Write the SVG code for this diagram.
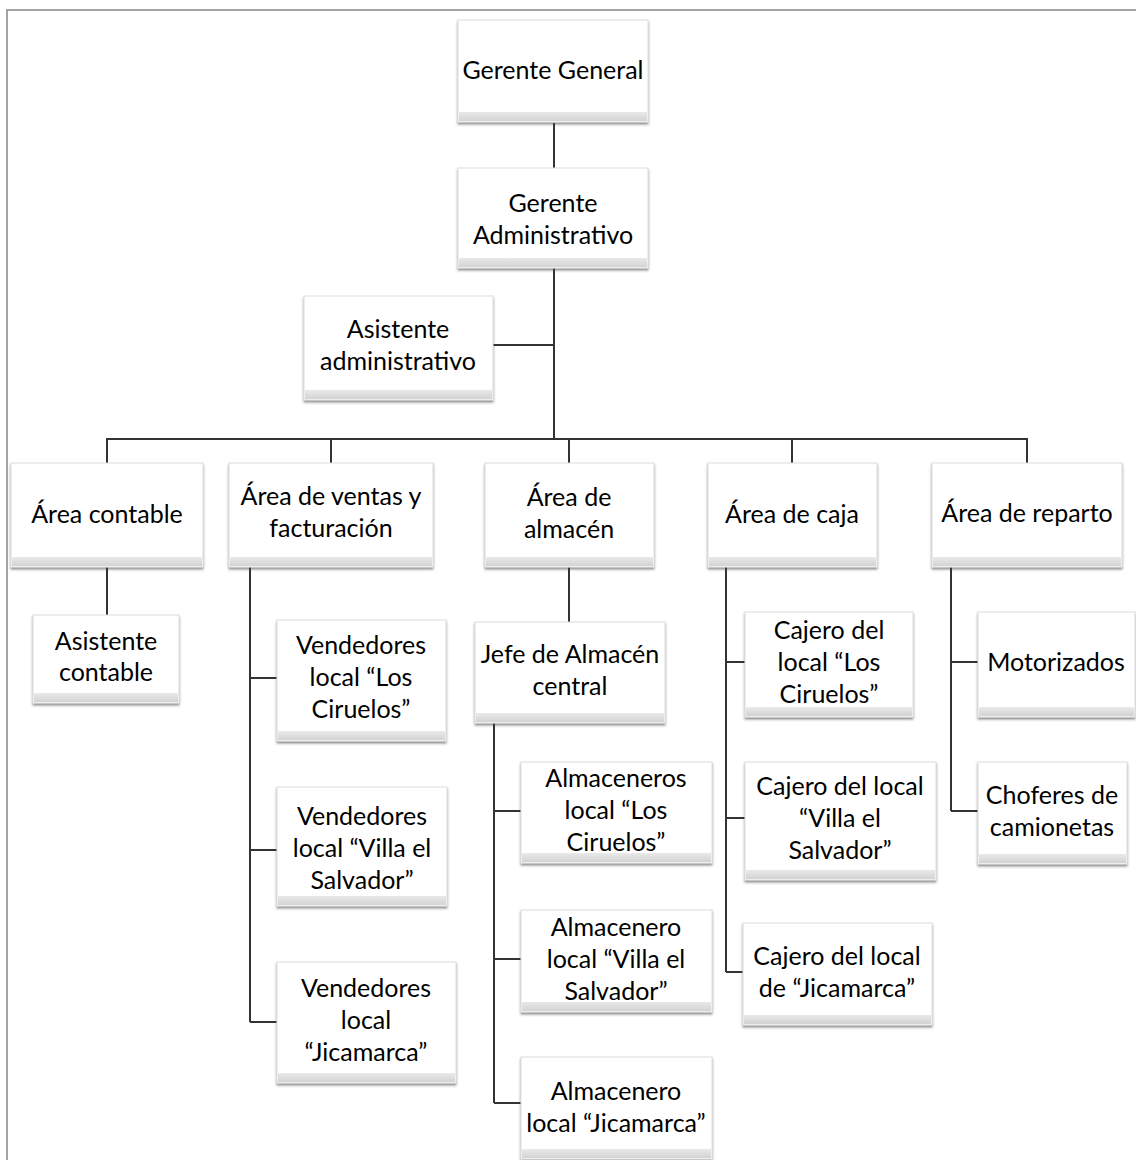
<svg xmlns="http://www.w3.org/2000/svg" width="1136" height="1160" viewBox="0 0 1136 1160">
<defs>
<linearGradient id="band" x1="0" y1="0" x2="0" y2="1">
<stop offset="0" stop-color="#e9e9e9"/>
<stop offset="1" stop-color="#d3d3d3"/>
</linearGradient>
<filter id="sh" x="-5%" y="-5%" width="110%" height="115%">
<feDropShadow dx="0" dy="2" stdDeviation="1" flood-color="#444" flood-opacity="0.6"/>
</filter>
</defs>
<style>
.box{fill:#fff;stroke:#dcdcdc;stroke-width:1;filter:url(#sh)}
.band{fill:url(#band)}
.t{font-family:Lato,"Liberation Sans",sans-serif;font-size:25px;fill:#000;text-anchor:middle}
.c{stroke:#333;stroke-width:2;fill:none}
.frame{stroke:#a3a3a3;stroke-width:2;fill:none}
</style>
<rect width="1136" height="1160" fill="#fff"/>
<path class="frame" d="M7 1160 V10 H1136"/>

<g id="connectors">
<path class="c" d="M554 123 V168"/>
<path class="c" d="M554 268 V439 M493 345 H554"/>
<path class="c" d="M107 463 V439 H1027 V463 M331 439 V463 M569 439 V463 M792 439 V463"/>
<path class="c" d="M107 567 V615"/>
<path class="c" d="M250 567 V1022 M250 678 H277 M250 850 H277 M250 1022 H277"/>
<path class="c" d="M569 567 V622"/>
<path class="c" d="M494 723 V1103 M494 811 H521 M494 959 H521 M494 1103 H521"/>
<path class="c" d="M726 567 V972 M726 662 H745 M726 818 H745 M726 972 H743"/>
<path class="c" d="M951 567 V811 M951 662 H978 M951 811 H978"/>
</g>

<g id="gerente-general">
<rect class="box" x="458" y="20" width="190" height="102"/><rect class="band" x="459" y="112" width="188" height="9"/>
<text class="t" x="553" y="79">Gerente General</text>
</g>
<g id="gerente-administrativo">
<rect class="box" x="458" y="168" width="190" height="100"/><rect class="band" x="459" y="258" width="188" height="9"/>
<text class="t" x="553" y="212">Gerente</text><text class="t" x="553" y="244">Administrativo</text>
</g>
<g id="asistente-administrativo">
<rect class="box" x="304" y="296" width="189" height="104"/><rect class="band" x="305" y="390" width="187" height="9"/>
<text class="t" x="398" y="338">Asistente</text><text class="t" x="398" y="370">administrativo</text>
</g>

<g id="area-contable">
<rect class="box" x="11" y="463" width="192" height="104"/><rect class="band" x="12" y="557" width="190" height="9"/>
<text class="t" x="107" y="523">Área contable</text>
</g>
<g id="area-ventas">
<rect class="box" x="229" y="463" width="204" height="104"/><rect class="band" x="230" y="557" width="202" height="9"/>
<text class="t" x="331" y="505">Área de ventas y</text><text class="t" x="331" y="537">facturación</text>
</g>
<g id="area-almacen">
<rect class="box" x="485" y="463" width="169" height="104"/><rect class="band" x="486" y="557" width="167" height="9"/>
<text class="t" x="569" y="506">Área de</text><text class="t" x="569" y="538">almacén</text>
</g>
<g id="area-caja">
<rect class="box" x="708" y="463" width="169" height="104"/><rect class="band" x="709" y="557" width="167" height="9"/>
<text class="t" x="792" y="523">Área de caja</text>
</g>
<g id="area-reparto">
<rect class="box" x="932" y="463" width="190" height="104"/><rect class="band" x="933" y="557" width="188" height="9"/>
<text class="t" x="1027" y="522">Área de reparto</text>
</g>

<g id="asistente-contable">
<rect class="box" x="33" y="615" width="146" height="88"/><rect class="band" x="34" y="693" width="144" height="9"/>
<text class="t" x="106" y="650">Asistente</text><text class="t" x="106" y="681">contable</text>
</g>

<g id="vendedores-ciruelos">
<rect class="box" x="277" y="620" width="169" height="121"/><rect class="band" x="278" y="731" width="167" height="9"/>
<text class="t" x="361" y="654">Vendedores</text><text class="t" x="361" y="686">local “Los</text><text class="t" x="361" y="718">Ciruelos”</text>
</g>
<g id="vendedores-villa">
<rect class="box" x="277" y="787" width="170" height="119"/><rect class="band" x="278" y="896" width="168" height="9"/>
<text class="t" x="362" y="825">Vendedores</text><text class="t" x="362" y="857">local “Villa el</text><text class="t" x="362" y="889">Salvador”</text>
</g>
<g id="vendedores-jicamarca">
<rect class="box" x="277" y="962" width="179" height="121"/><rect class="band" x="278" y="1073" width="177" height="9"/>
<text class="t" x="366" y="997">Vendedores</text><text class="t" x="366" y="1029">local</text><text class="t" x="366" y="1061">“Jicamarca”</text>
</g>

<g id="jefe-almacen">
<rect class="box" x="475" y="622" width="190" height="101"/><rect class="band" x="476" y="713" width="188" height="9"/>
<text class="t" x="570" y="663">Jefe de Almacén</text><text class="t" x="570" y="695">central</text>
</g>
<g id="almaceneros-ciruelos">
<rect class="box" x="521" y="762" width="191" height="101"/><rect class="band" x="522" y="853" width="189" height="9"/>
<text class="t" x="616" y="787">Almaceneros</text><text class="t" x="616" y="819">local “Los</text><text class="t" x="616" y="851">Ciruelos”</text>
</g>
<g id="almacenero-villa">
<rect class="box" x="521" y="910" width="191" height="102"/><rect class="band" x="522" y="1002" width="189" height="9"/>
<text class="t" x="616" y="936">Almacenero</text><text class="t" x="616" y="968">local “Villa el</text><text class="t" x="616" y="1000">Salvador”</text>
</g>
<g id="almacenero-jicamarca">
<rect class="box" x="521" y="1057" width="191" height="102"/><rect class="band" x="522" y="1149" width="189" height="9"/>
<text class="t" x="616" y="1100">Almacenero</text><text class="t" x="616" y="1132">local “Jicamarca”</text>
</g>

<g id="cajero-ciruelos">
<rect class="box" x="745" y="612" width="168" height="105"/><rect class="band" x="746" y="707" width="166" height="9"/>
<text class="t" x="829" y="639">Cajero del</text><text class="t" x="829" y="671">local “Los</text><text class="t" x="829" y="703">Ciruelos”</text>
</g>
<g id="cajero-villa">
<rect class="box" x="745" y="762" width="191" height="118"/><rect class="band" x="746" y="870" width="189" height="9"/>
<text class="t" x="840" y="795">Cajero del local</text><text class="t" x="840" y="827">“Villa el</text><text class="t" x="840" y="859">Salvador”</text>
</g>
<g id="cajero-jicamarca">
<rect class="box" x="743" y="923" width="189" height="102"/><rect class="band" x="744" y="1015" width="187" height="9"/>
<text class="t" x="837" y="965">Cajero del local</text><text class="t" x="837" y="997">de “Jicamarca”</text>
</g>

<g id="motorizados">
<rect class="box" x="978" y="612" width="157" height="105"/><rect class="band" x="979" y="707" width="155" height="9"/>
<text class="t" x="1056" y="671">Motorizados</text>
</g>
<g id="choferes">
<rect class="box" x="978" y="762" width="149" height="102"/><rect class="band" x="979" y="854" width="147" height="9"/>
<text class="t" x="1052" y="804">Choferes de</text><text class="t" x="1052" y="836">camionetas</text>
</g>
</svg>
